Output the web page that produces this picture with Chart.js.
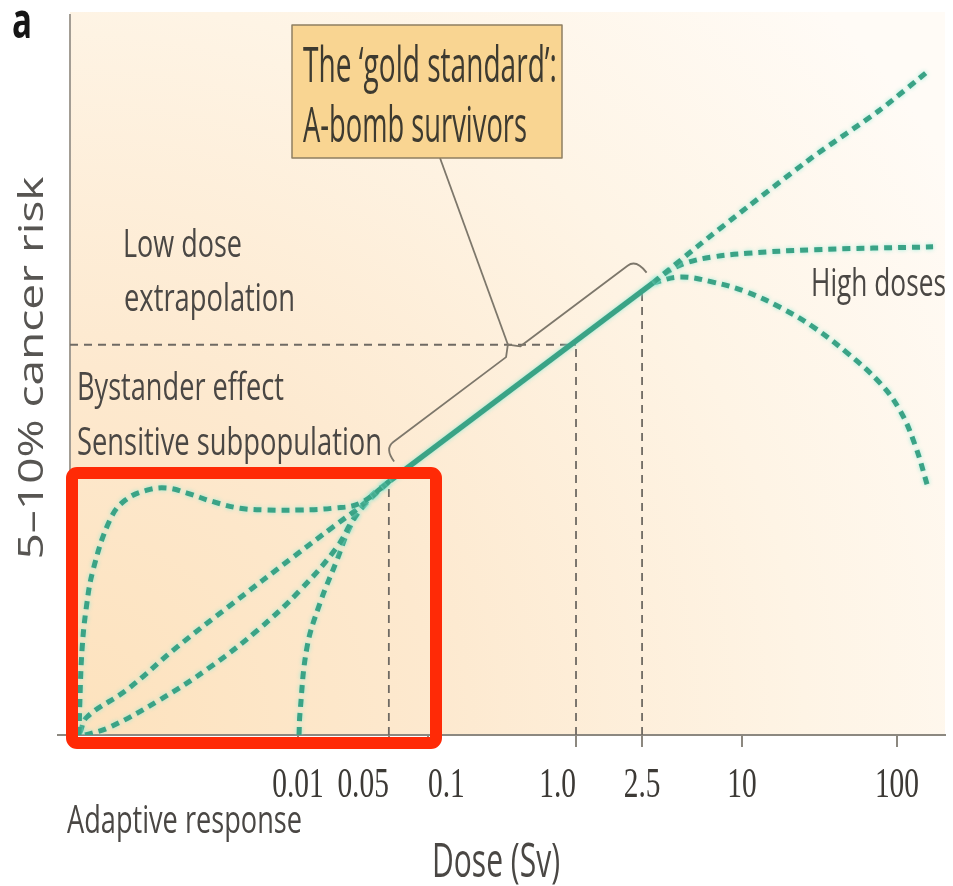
<!DOCTYPE html>
<html><head><meta charset="utf-8">
<script src="https://cdn.jsdelivr.net/npm/chart.js@4.4.1/dist/chart.umd.min.js"></script>
<style>html,body{margin:0;padding:0;background:#fff;overflow:hidden}canvas{display:block}</style>
</head><body>
<canvas id="c" width="953" height="886"></canvas>
<script>
// ---------------- data (dose in Sv, risk in % of axis height) ----------------
const doseTicks = [0.01, 0.05, 0.1, 1, 2.5, 10, 100];
const doseTickLabels = ['0.01', '0.05', '0.1', '1.0', '2.5', '10', '100'];

// low-dose extrapolation models
const supralinearDose = [2.07e-4, 2.10e-4, 2.18e-4, 2.34e-4, 2.65e-4, 3.58e-4, 4.67e-4, 6.89e-4, 9.82e-4, 1.40e-3, 2.22e-3, 3.58e-3, 5.78e-3, 0.01036, 0.01858, 0.0300, 0.0510];
const supralinearRisk = [0, 4.9, 11.8, 17.4, 22.9, 29.9, 32.6, 34.0, 34.3, 33.6, 32.4, 31.5, 31.25, 31.25, 31.5, 32.2, 35.3];

const linearDose = [2.10e-4, 2.38e-4, 4.84e-4, 1.17e-3, 3.16e-3, 9.15e-3, 0.01858, 0.0300, 0.0510];
const linearRisk = [0.3, 2.5, 6.3, 12.2, 18.3, 24.7, 28.9, 31.7, 35.3];

const sublinearDose = [2.30e-4, 3.58e-4, 8.67e-4, 2.10e-3, 4.92e-3, 0.01036, 0.01995, 0.0265, 0.0371, 0.0510];
const sublinearRisk = [0, 1.1, 4.9, 9.4, 14.6, 20.1, 26.1, 29.9, 33.3, 35.3];

const thresholdDose = [0.01018, 0.01036, 0.01173, 0.01475, 0.01995, 0.0251, 0.0316, 0.0510];
const thresholdRisk = [0, 3.1, 12.2, 18.3, 24.3, 28.9, 31.7, 35.3];

// A-bomb survivors (observed range)
const abombDose = [0.0510, 2.91];
const abombRisk = [35.3, 62.8];

// high-dose behaviours
const highLinearDose = [2.91, 5.35, 10.8, 28.7, 77.6, 163];
const highLinearRisk = [62.8, 67.8, 73.3, 80.3, 86.8, 92.4];

const plateauDose = [2.91, 3.53, 4.66, 6.68, 10.8, 28.7, 171];
const plateauRisk = [62.8, 64.3, 65.6, 66.4, 66.9, 67.4, 67.8];

const cellKillDose = [2.91, 4.23, 6.68, 10.8, 17.6, 28.7, 47.5, 77.6, 104.5, 130.7, 158.5];
const cellKillRisk = [62.8, 63.6, 62.9, 61.5, 59.4, 56.7, 53.1, 48.9, 45.1, 40.3, 34.4];

// guide lines
const guideRisk = 54.2;          // horizontal guide from axis to 1.0 Sv
const guideDoses = [0.05, 1, 2.5];
const guideTops = [35.3, 54.2, 61.8];
const doseMin = 1.762e-4, doseMax = 204.2;

// ---------------- helpers ----------------
const pts = (xs, ys) => xs.map((x, i) => ({x, y: ys[i]}));
const SANS = '"Open Sans", "Noto Sans", sans-serif';
const SERIF = '"Liberation Serif", "DejaVu Serif", serif';

// dose axis: logarithmic, with the (schematic) decade spacing of the original figure
const knotLog = [-3.754, -2, -1, 0, 1, 2, 2.31];
const knotFrac = [0, 0.2606, 0.4091, 0.5783, 0.768, 0.9451, 1];
function interp(v, xs, ys) {
  let i = 1;
  while (i < xs.length - 1 && v > xs[i]) i++;
  const t = (v - xs[i - 1]) / (xs[i] - xs[i - 1]);
  return ys[i - 1] + t * (ys[i] - ys[i - 1]);
}
class DoseScale extends Chart.LogarithmicScale {
  getPixelForValue(value) {
    if (value === null || value === undefined || isNaN(value)) return NaN;
    if (value <= 0) value = this.min;
    return this.getPixelForDecimal(interp(Math.log10(value), knotLog, knotFrac));
  }
  getValueForPixel(pixel) {
    return Math.pow(10, interp(this.getDecimalForPixel(pixel), knotFrac, knotLog));
  }
}
DoseScale.id = 'doselog';
DoseScale.defaults = Chart.LogarithmicScale.defaults;
Chart.register(DoseScale);

function drawText(ctx, text, x, y, size, o) {
  ctx.save();
  ctx.font = `${o.weight || 'normal'} ${size}px ${o.family || SANS}`;
  const w = ctx.measureText(text).width;
  ctx.translate(x, y);
  if (o.rot) ctx.rotate(o.rot);
  ctx.scale(o.width ? o.width / w : (o.sx || 1), 1);
  ctx.textAlign = o.align || 'left';
  ctx.textBaseline = 'alphabetic';
  ctx.fillStyle = o.color || '#4a4744';
  ctx.fillText(text, 0, 0);
  ctx.restore();
}

const TEAL = '#3aa386';
const GUIDE = '#6f6a63';
function curve(label, xs, ys, extra) {
  return Object.assign({label, data: pts(xs, ys), borderColor: TEAL, borderWidth: 5,
    borderDash: [8, 6], pointRadius: 0, fill: false, tension: 0.4, glow: true}, extra || {});
}
const datasets = [
  curve('Supralinear (bystander / sensitive subpopulation)', supralinearDose, supralinearRisk),
  curve('Linear no-threshold', linearDose, linearRisk),
  curve('Sublinear', sublinearDose, sublinearRisk),
  curve('Threshold (adaptive response)', thresholdDose, thresholdRisk),
  curve('A-bomb survivors', abombDose, abombRisk, {borderDash: [], borderWidth: 5.5, tension: 0}),
  curve('High dose: linear', highLinearDose, highLinearRisk, {tension: 0.2}),
  curve('High dose: plateau', plateauDose, plateauRisk),
  curve('High dose: cell killing', cellKillDose, cellKillRisk),
  {label: 'guide h', data: [{x: doseMin, y: guideRisk}, {x: 1, y: guideRisk}], borderColor: GUIDE,
   borderWidth: 1.8, borderDash: [8, 6], pointRadius: 0, fill: false},
];
guideDoses.forEach((d, i) => datasets.push({label: 'guide ' + doseTickLabels[doseTicks.indexOf(d)],
  data: [{x: d, y: 0}, {x: d, y: guideTops[i]}], borderColor: GUIDE, borderWidth: 1.8,
  borderDash: [8, 6], pointRadius: 0, fill: false}));

const tickAlign = ['center', 'right', 'left', 'right', 'center', 'center', 'center'];

const deco = {
  id: 'deco',
  beforeDraw(chart) {
    const {ctx, chartArea: a} = chart;
    ctx.save();
    ctx.fillStyle = '#fff';
    ctx.fillRect(0, 0, chart.width, chart.height);
    const g = ctx.createRadialGradient(a.left, a.bottom, 0, a.left, a.bottom, 1050);
    g.addColorStop(0, '#fde2bd');
    g.addColorStop(0.35, '#fde9cf');
    g.addColorStop(0.7, '#fef4e5');
    g.addColorStop(1, '#fffbf6');
    ctx.fillStyle = g;
    ctx.fillRect(a.left, a.top - 3, a.right - a.left, a.bottom - a.top + 3);
    ctx.restore();
  },
  beforeDatasetDraw(chart, args) {
    const ds = chart.data.datasets[args.index];
    chart.ctx.save();
    if (ds.glow) { chart.ctx.shadowColor = 'rgba(140,235,215,0.9)'; chart.ctx.shadowBlur = 4; }
  },
  afterDatasetDraw(chart) { chart.ctx.restore(); },
  afterDraw(chart) {
    const {ctx} = chart;
    const xs = chart.scales.x, ys = chart.scales.y;
    // x-axis line extends a little left of the y axis
    ctx.save();
    ctx.strokeStyle = '#8c8880'; ctx.lineWidth = 2;
    ctx.beginPath(); ctx.moveTo(57, ys.getPixelForValue(0)); ctx.lineTo(chart.chartArea.left, ys.getPixelForValue(0)); ctx.stroke();
    ctx.restore();
    // tick labels
    doseTicks.forEach((v, i) => {
      drawText(ctx, doseTickLabels[i], xs.getPixelForValue(v), 797, 42,
        {family: SERIF, sx: 0.7, align: tickAlign[i], color: '#3d3a36'});
    });
    // axis titles
    drawText(ctx, 'Dose (Sv)', 432, 877, 47, {width: 128});
    drawText(ctx, '5–10% cancer risk', 43, 368, 34, {width: 383, rot: -Math.PI / 2, align: 'center', color: '#575552'});
    drawText(ctx, 'a', 12, 38, 50, {width: 20, weight: 'bold', color: '#151515'});
    // region notes
    drawText(ctx, 'Low dose', 123, 257, 38, {width: 119});
    drawText(ctx, 'extrapolation', 124, 311, 38, {width: 171});
    drawText(ctx, 'Bystander effect', 77, 400, 38, {width: 207});
    drawText(ctx, 'Sensitive subpopulation', 77, 455, 38, {width: 305});
    drawText(ctx, 'High doses', 946, 296, 39, {width: 135, align: 'right'});
    drawText(ctx, 'Adaptive response', 67, 833, 39, {width: 235});

    // bracket along the A-bomb segment
    const p0x = xs.getPixelForValue(abombDose[0]), p0y = ys.getPixelForValue(abombRisk[0]);
    const p1x = xs.getPixelForValue(abombDose[1]), p1y = ys.getPixelForValue(abombRisk[1]);
    const L = Math.hypot(p1x - p0x, p1y - p0y);
    const ux = (p1x - p0x) / L, uy = (p1y - p0y) / L;
    const nx = uy, ny = -ux;
    const P = (a, d) => [p0x + ux * a + nx * d, p0y + uy * a + ny * d];
    const peakA = L * 0.535;
    ctx.save();
    ctx.strokeStyle = '#7d776b'; ctx.lineWidth = 1.8; ctx.lineJoin = 'round';
    ctx.beginPath();
    ctx.moveTo(...P(15, 13));
    ctx.quadraticCurveTo(...P(15, 29), ...P(26, 29));
    ctx.lineTo(...P(peakA - 9, 29));
    ctx.lineTo(...P(peakA, 38));
    ctx.lineTo(...P(peakA + 9, 29));
    ctx.lineTo(...P(L - 10, 29));
    ctx.quadraticCurveTo(...P(L + 1, 29), ...P(L + 1, 12));
    ctx.stroke();
    // pointer to the label box
    const pk = P(peakA, 38);
    ctx.beginPath(); ctx.moveTo(pk[0], pk[1]); ctx.lineTo(440, 158); ctx.stroke();
    // label box
    ctx.fillStyle = '#f9d592';
    ctx.fillRect(292, 25, 270, 133);
    ctx.strokeStyle = '#8e7f62'; ctx.lineWidth = 1.5;
    ctx.strokeRect(292, 25, 270, 133);
    ctx.restore();
    drawText(ctx, 'The ‘gold standard’:', 303, 82, 50, {width: 254, color: '#3d3a30'});
    drawText(ctx, 'A-bomb survivors', 303, 142, 50, {width: 224, color: '#3d3a30'});

    // red highlight frame
    ctx.save();
    ctx.strokeStyle = '#ff2a06'; ctx.lineWidth = 12;
    ctx.beginPath();
    if (ctx.roundRect) ctx.roundRect(72, 473, 364, 270, 5); else ctx.rect(72, 473, 364, 270);
    ctx.stroke();
    ctx.restore();
  }
};

new Chart(document.getElementById('c'), {
  type: 'line',
  data: {datasets},
  plugins: [deco],
  options: {
    responsive: false,
    animation: false,
    events: [],
    layout: {padding: {top: 15, right: 8, left: 0, bottom: 0}},
    plugins: {legend: {display: false}, tooltip: {enabled: false}, title: {display: false}},
    scales: {
      x: {
        type: 'doselog', min: doseMin, max: doseMax,
        afterBuildTicks: s => { s.ticks = doseTicks.map(v => ({value: v})); },
        afterFit: s => { s.height = 151; },
        ticks: {display: false},
        grid: {display: true, drawOnChartArea: false, drawTicks: true, tickLength: 12, color: '#8c8880', lineWidth: 2},
        border: {display: true, color: '#8c8880', width: 2}
      },
      y: {
        type: 'linear', min: 0, max: 100,
        afterFit: s => { s.width = 70; },
        ticks: {display: false},
        grid: {display: true, drawOnChartArea: false, drawTicks: false},
        border: {display: true, color: '#a39d94', width: 2}
      }
    }
  }
});
</script>
</body></html>
